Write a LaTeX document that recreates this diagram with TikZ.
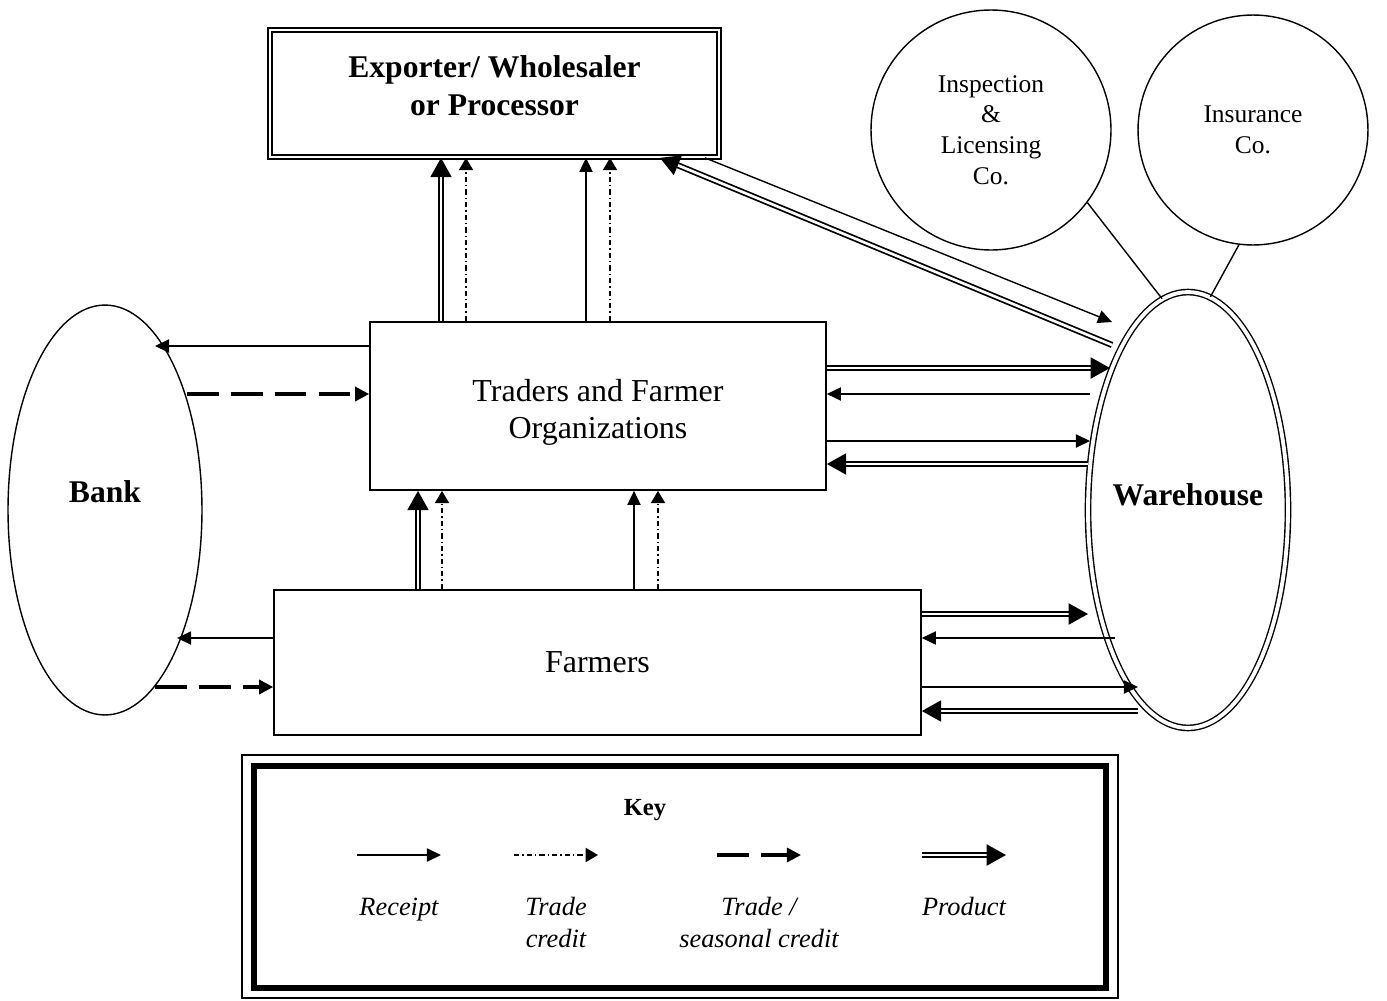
\documentclass[tikz,border=0pt]{standalone}
\usepackage{fontspec}
\setmainfont{Liberation Serif}
\usetikzlibrary{positioning,arrows.meta,shapes.geometric}

\begin{document}
\begin{tikzpicture}[x=0.02cm ,y=-0.02cm ,line width=0.8pt ,
box/.style ={rectangle ,draw ,line width=1pt ,align=center ,
  font=\fontsize{18.2}{21}\selectfont},
roundnode/.style ={circle ,draw ,line width=0.8pt ,align=center ,
  font=\fontsize{14.5}{17.5}\selectfont},
bigname/.style ={font=\bfseries\fontsize{18}{21.5}\selectfont ,align=center},
keytext/.style ={font=\itshape\fontsize{15}{18}\selectfont ,align=center ,anchor=north},
receipt/.style ={-{Triangle[length=8pt,width=7.5pt]} ,line width=0.8pt},
tcredit/.style ={-{Triangle[length=7pt,width=8pt]} ,line width=1pt ,
  dash pattern=on 3pt off 1.7pt on 0.8pt off 1.7pt},
scredit/.style ={-{Triangle[length=8pt,width=8pt]} ,line width=1.8pt ,
  dash pattern=on 18pt off 7pt},
product/.style ={-{Triangle[length=11pt,width=12pt]} ,double ,
  double distance=1.5pt ,line width=1pt}]
\useasboundingbox (0,0) rectangle (1387,1001);

% actors
\node[box ,double ,double distance=1.2pt ,line width=1pt ,
  minimum width=8.98cm ,minimum height=2.54cm ,
  label={[bigname ,yshift=0.16cm]center:Exporter/ Wholesaler\\or Processor}]
  (exporter) at (494.5,93.5) {};
\node[box ,minimum width=9.12cm ,minimum height=3.36cm ,
  label={[font=\fontsize{18.2}{21}\selectfont ,align=center ,yshift=-0.12cm]center:Traders and Farmer\\Organizations}]
  (traders) at (598,406) {};
\node[box ,minimum width=12.94cm ,minimum height=2.9cm] (farmers) at (597.5,662.5)
  {Farmers};
\node[ellipse ,draw ,minimum width=3.88cm ,minimum height=8.2cm ,
  label={[bigname ,yshift=0.36cm]center:Bank}] (bank) at (105,510) {};
\node[ellipse ,draw ,double ,double distance=2.2pt ,minimum width=4cm ,
  minimum height=8.72cm ,
  label={[bigname ,yshift=0.3cm]center:Warehouse}] (wh) at (1188,510) {};
\node[roundnode ,minimum size=4.8cm] (insp) at (991,130)
  {Inspection\\\&\\Licensing\\Co.};
\node[roundnode ,minimum size=4.6cm] (insure) at (1253,130) {Insurance\\Co.};

\draw (insp.-37) -- (wh.97);
\draw (insure.-97) -- (wh.84);

% free ends at the warehouse and the bank
\coordinate (wa) at (1110,368);
\coordinate (wb) at (1090,394);
\coordinate (wc) at (1090,441);
\coordinate (wd) at (1088,464);
\coordinate (we) at (1088,614);
\coordinate (wf) at (1115,638);
\coordinate (wg) at (1138,687);
\coordinate (wk) at (1138,711);
\coordinate (wx) at (1112,345);
\coordinate (wy) at (1112,322);
\coordinate (ba) at (155,346);
\coordinate (bb) at (187,394);
\coordinate (bc) at (177,638);
\coordinate (bd) at (155,687);

\foreach \sty/\xa in {product/441, tcredit/466, receipt/586, tcredit/610}
  \draw[\sty] (traders.north -| \xa,0) -- (exporter.south -| \xa,0);
\foreach \sty/\xa in {product/418, tcredit/442, receipt/634, tcredit/658}
  \draw[\sty] (farmers.north -| \xa,0) -- (traders.south -| \xa,0);

\draw[product] (wx) -- (exporter.south -| 660,0);
\draw[receipt] (exporter.south -| 705,0) -- (wy);

\draw[product] (traders.east |- wa) -- (wa);
\draw[receipt] (wb) -- (traders.east |- wb);
\draw[receipt] (traders.east |- wc) -- (wc);
\draw[product] (wd) -- (traders.east |- wd);
\draw[product] (farmers.east |- we) -- (we);
\draw[receipt] (wf) -- (farmers.east |- wf);
\draw[receipt] (farmers.east |- wg) -- (wg);
\draw[product] (wk) -- (farmers.east |- wk);

\draw[receipt] (traders.west |- ba) -- (ba);
\draw[scredit] (bb) -- (traders.west |- bb);
\draw[receipt] (farmers.west |- bc) -- (bc);
\draw[scredit] (bd) -- (farmers.west |- bd);

% key
\node[draw ,line width=3.5pt ,minimum width=17.04cm ,minimum height=4.44cm]
  (key) at (680,877) {};
\draw ([shift={(-9,-8)}]key.north west) rectangle ([shift={(9,7)}]key.south east);
\node[font=\bfseries\fontsize{14}{17}\selectfont] (keytitle) at (645,810) {Key};
\foreach \sty/\xa/\lab in {receipt/357/{Receipt}, tcredit/514/{Trade\\credit},
  scredit/717/{Trade /\\seasonal credit}, product/922/{Product}} {
  \draw[\sty] (\xa,855) -- ++(84,0);
  \node[keytext] at (\xa+42,891) {\lab};
}
\end{tikzpicture}
\end{document}
